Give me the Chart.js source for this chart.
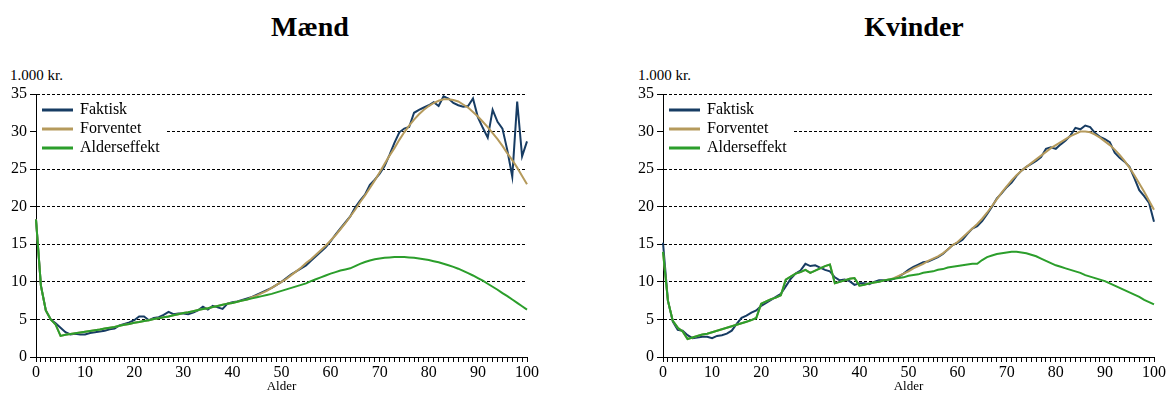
<!DOCTYPE html>
<html>
<head>
<meta charset="utf-8">
<script src="https://cdn.jsdelivr.net/npm/chart.js@4.4.1/dist/chart.umd.min.js"></script>
<style>
  body { margin: 0; width: 1169px; height: 394px; background: #fff; overflow: hidden; position: relative; font-family: 'Liberation Serif', serif; }
  .title { position: absolute; top: 11px; width: 200px; text-align: center; font-size: 28px; font-weight: bold; line-height: 32px; }
  .unit { position: absolute; top: 66px; font-size: 15px; line-height: 18px; }
  canvas { position: absolute; top: 80px; }
</style>
</head>
<body>
<div class="title" style="left:210px">Mænd</div>
<div class="title" style="left:814px">Kvinder</div>
<div class="unit" style="left:10px">1.000 kr.</div>
<div class="unit" style="left:638px">1.000 kr.</div>
<canvas id="maend" width="545" height="314" style="left:0px"></canvas>
<canvas id="kvinder" width="545" height="314" style="left:627px"></canvas>
<script>
// Alder 0-100 år
const ages = Array.from({ length: 101 }, (_, i) => i);
const seriesNames = ['Faktisk', 'Forventet', 'Alderseffekt'];
const yTicks = [0, 5, 10, 15, 20, 25, 30, 35];

// Mænd (1.000 kr.)
const maendFaktisk = [
  18.3, 9.5, 6.2, 5.0, 4.5, 3.9, 3.3, 3.0, 3.1, 3.0,
  3.0, 3.2, 3.3, 3.4, 3.5, 3.7, 3.8, 4.2, 4.4, 4.6,
  4.9, 5.4, 5.4, 4.9, 5.2, 5.3, 5.6, 6.0, 5.7, 5.8,
  5.8, 5.7, 5.9, 6.2, 6.7, 6.3, 6.8, 6.6, 6.4, 7.1,
  7.3, 7.4, 7.6, 7.8, 8.0, 8.3, 8.6, 8.9, 9.2, 9.6,
  10.0, 10.5, 11.0, 11.4, 11.8, 12.2, 12.8, 13.4, 14.0, 14.6,
  15.4, 16.3, 17.1, 17.9, 18.7, 19.9, 20.8, 21.6, 22.9, 23.6,
  24.4, 25.4, 26.9, 28.5, 29.9, 30.4, 30.6, 32.5, 32.9, 33.2,
  33.5, 33.9, 33.4, 34.7, 34.4, 33.8, 33.5, 33.3, 33.4, 34.4,
  31.9, 30.5, 29.2, 32.9, 31.3, 30.4, 27.5, 24.0, 34.0, 26.7, 28.7
];
const maendForventet = [
  18.3, 9.5, 6.2, 5.0, 4.3, 2.8, 2.95, 3.05, 3.15, 3.25,
  3.35, 3.45, 3.55, 3.65, 3.8, 3.9, 4.0, 4.15, 4.3, 4.4,
  4.55, 4.65, 4.8, 4.9, 5.05, 5.15, 5.3, 5.4, 5.55, 5.7,
  5.85, 5.95, 6.1, 6.25, 6.4, 6.5, 6.65, 6.8, 6.95, 7.1,
  7.2, 7.35, 7.5, 7.65, 7.95, 8.2, 8.5, 8.8, 9.2, 9.6,
  10.0, 10.4, 10.9, 11.4, 11.9, 12.5, 13.0, 13.6, 14.2, 14.8,
  15.5, 16.2, 17.0, 17.8, 18.7, 19.6, 20.6, 21.5, 22.5, 23.5,
  24.6, 25.7, 26.8, 27.8, 28.9, 29.9, 30.8, 31.6, 32.3, 32.9,
  33.4, 33.8, 34.1, 34.3, 34.3, 34.2, 34.0, 33.6, 33.2, 32.6,
  32.0, 31.3, 30.6, 29.8, 29.0, 28.1, 27.1, 26.2, 25.2, 24.1, 23.0
];
const maendAlder = [
  18.3, 9.5, 6.2, 5.0, 4.3, 2.8, 2.95, 3.05, 3.15, 3.25,
  3.35, 3.45, 3.55, 3.65, 3.8, 3.9, 4.0, 4.15, 4.3, 4.4,
  4.55, 4.65, 4.8, 4.9, 5.05, 5.15, 5.3, 5.4, 5.55, 5.7,
  5.85, 5.95, 6.1, 6.25, 6.4, 6.5, 6.65, 6.8, 6.95, 7.1,
  7.2, 7.35, 7.5, 7.65, 7.8, 7.95, 8.1, 8.25, 8.4, 8.6,
  8.8, 9.0, 9.2, 9.4, 9.6, 9.8, 10.1, 10.35, 10.6, 10.85,
  11.1, 11.3, 11.5, 11.65, 11.8, 12.1, 12.4, 12.65, 12.85, 13.0,
  13.1, 13.2, 13.25, 13.3, 13.3, 13.3, 13.25, 13.2, 13.1, 13.0,
  12.9, 12.75, 12.6, 12.4, 12.2, 12.0, 11.75, 11.45, 11.15, 10.85,
  10.5, 10.15, 9.75, 9.35, 8.95, 8.5, 8.1, 7.65, 7.2, 6.75, 6.3
];

// Kvinder (1.000 kr.)
const kvinderFaktisk = [
  15.2, 7.5, 4.7, 3.6, 3.5, 2.9, 2.5, 2.6, 2.7, 2.7,
  2.5, 2.8, 2.9, 3.1, 3.5, 4.4, 5.2, 5.5, 5.9, 6.2,
  6.8, 7.2, 7.6, 8.0, 8.4, 9.4, 10.4, 11.1, 11.5, 12.4,
  12.1, 12.2, 11.9, 11.6, 11.4, 10.6, 10.2, 10.3, 10.1, 9.6,
  9.8, 9.8, 9.7, 10.0, 10.2, 10.2, 10.2, 10.4, 10.7, 11.1,
  11.6, 12.0, 12.3, 12.6, 12.7, 13.0, 13.3, 13.7, 14.3, 14.9,
  15.2, 15.6, 16.4, 17.1, 17.4, 18.1, 19.0, 20.0, 21.1, 21.8,
  22.6, 23.2, 24.1, 24.8, 25.3, 25.7, 26.1, 26.6, 27.7, 27.9,
  27.7, 28.3, 28.8, 29.5, 30.5, 30.3, 30.8, 30.6, 29.8, 29.3,
  29.0, 28.6, 27.2, 26.5, 26.0, 25.3, 23.8, 22.2, 21.4, 20.5, 18.0
];
const kvinderForventet = [
  14.0, 7.5, 4.8, 3.9, 3.4, 2.4, 2.6, 2.8, 3.0, 3.1,
  3.3, 3.5, 3.7, 3.9, 4.1, 4.3, 4.5, 4.7, 4.9, 5.2,
  7.1, 7.4, 7.7, 7.9, 8.2, 10.3, 10.7, 11.1, 11.3, 11.6,
  11.2, 11.5, 11.8, 12.1, 12.3, 9.8, 10.0, 10.2, 10.4, 10.5,
  9.5, 9.6, 9.8, 9.9, 10.0, 10.2, 10.3, 10.5, 10.8, 11.1,
  11.4, 11.8, 12.1, 12.4, 12.8, 13.1, 13.4, 13.8, 14.3, 14.9,
  15.3, 15.9, 16.5, 17.1, 17.7, 18.4, 19.2, 20.1, 21.0, 21.9,
  22.7, 23.5, 24.2, 24.8, 25.3, 25.8, 26.3, 26.8, 27.3, 27.8,
  28.2, 28.6, 29.0, 29.4, 29.7, 30.0, 30.0, 29.9, 29.6, 29.2,
  28.7, 28.2, 27.6, 26.9, 26.1, 25.2, 24.2, 23.1, 22.0, 20.8, 19.6
];
const kvinderAlder = [
  14.0, 7.5, 4.8, 3.9, 3.4, 2.4, 2.6, 2.8, 3.0, 3.1,
  3.3, 3.5, 3.7, 3.9, 4.1, 4.3, 4.5, 4.7, 4.9, 5.2,
  7.1, 7.4, 7.7, 7.9, 8.2, 10.3, 10.7, 11.1, 11.3, 11.6,
  11.2, 11.5, 11.8, 12.1, 12.3, 9.8, 10.0, 10.2, 10.4, 10.5,
  9.5, 9.6, 9.8, 9.9, 10.0, 10.2, 10.3, 10.4, 10.5, 10.6,
  10.8, 10.9, 11.0, 11.2, 11.3, 11.4, 11.6, 11.7, 11.9, 12.0,
  12.1, 12.2, 12.3, 12.4, 12.4, 12.9, 13.3, 13.5, 13.7, 13.8,
  13.9, 14.0, 14.0, 13.9, 13.8, 13.6, 13.4, 13.1, 12.8, 12.5,
  12.2, 12.0, 11.8, 11.6, 11.4, 11.2, 10.9, 10.7, 10.5, 10.3,
  10.1, 9.8, 9.5, 9.2, 8.9, 8.6, 8.3, 8.0, 7.6, 7.3, 7.0
];

const colors = ['#173c63', '#b59a5c', '#2b9e2b'];

Chart.defaults.font.family = "'Liberation Serif', serif";
Chart.defaults.color = '#000';

// legend sits inside the plot on a white patch that hides the 30-line
const legendBox = {
  id: 'legendBox',
  beforeDraw(chart) {
    const lg = chart.legend, a = chart.chartArea;
    const w = lg.width, h = lg.height;
    lg.left = a.left + 4;
    lg.top = a.top + 5;
    lg.right = lg.left + w;
    lg.bottom = lg.top + h;
  },
  beforeDatasetsDraw(chart) {
    const a = chart.chartArea, ctx = chart.ctx;
    ctx.save();
    ctx.fillStyle = '#fff';
    ctx.fillRect(a.left + 1, a.top + 10, 130, 50);
    ctx.restore();
    chart.legend.draw();
  }
};

function makeChart(id, faktisk, forventet, alder) {
  const values = [faktisk, forventet, alder];
  return new Chart(document.getElementById(id), {
    type: 'line',
    data: {
      labels: ages,
      datasets: seriesNames.map((name, i) => ({
        label: name,
        data: values[i],
        borderColor: colors[i],
        backgroundColor: colors[i],
        borderWidth: 2,
        pointRadius: 0,
        tension: 0,
        order: 3 - i
      }))
    },
    options: {
      responsive: false,
      animation: false,
      layout: { padding: { top: 14, right: 18, left: 0, bottom: 0 } },
      plugins: {
        tooltip: { enabled: false },
        legend: {
          position: 'chartArea',
          align: 'start',
          labels: {
            boxWidth: 29,
            boxHeight: 1,
            padding: 3,
            color: '#000',
            font: { size: 16 },
            sort: (a, b) => a.datasetIndex - b.datasetIndex
          }
        }
      },
      scales: {
        x: {
          type: 'category',
          offset: false,
          grid: { drawOnChartArea: false, drawTicks: true, tickLength: 5, tickColor: '#000' },
          border: { display: true, color: '#000', width: 1 },
          ticks: {
            autoSkip: false,
            maxRotation: 0,
            padding: 1,
            font: { size: 16 },
            color: '#000',
            callback: (v, i) => (i % 10 === 0 ? String(ages[i]) : '')
          },
          title: { display: true, text: 'Alder', font: { size: 13 }, color: '#000', padding: 0 },
          afterFit: s => { s.height = 37; }
        },
        y: {
          min: 0,
          max: 35,
          afterBuildTicks: s => { s.ticks = yTicks.map(v => ({ value: v })); },
          grid: {
            color: c => (c.tick && c.tick.value === 0 ? 'rgba(0,0,0,0)' : '#000'),
            lineWidth: 1,
            tickLength: 6,
            tickColor: '#000',
            tickBorderDash: []
          },
          border: { display: true, color: '#000', width: 1, dash: [3, 2] },
          ticks: { padding: 3, font: { size: 16 }, color: '#000' },
          afterFit: s => { s.width = 36; }
        }
      }
    },
    plugins: [legendBox]
  });
}

makeChart('maend', maendFaktisk, maendForventet, maendAlder);
makeChart('kvinder', kvinderFaktisk, kvinderForventet, kvinderAlder);
</script>
</body>
</html>
